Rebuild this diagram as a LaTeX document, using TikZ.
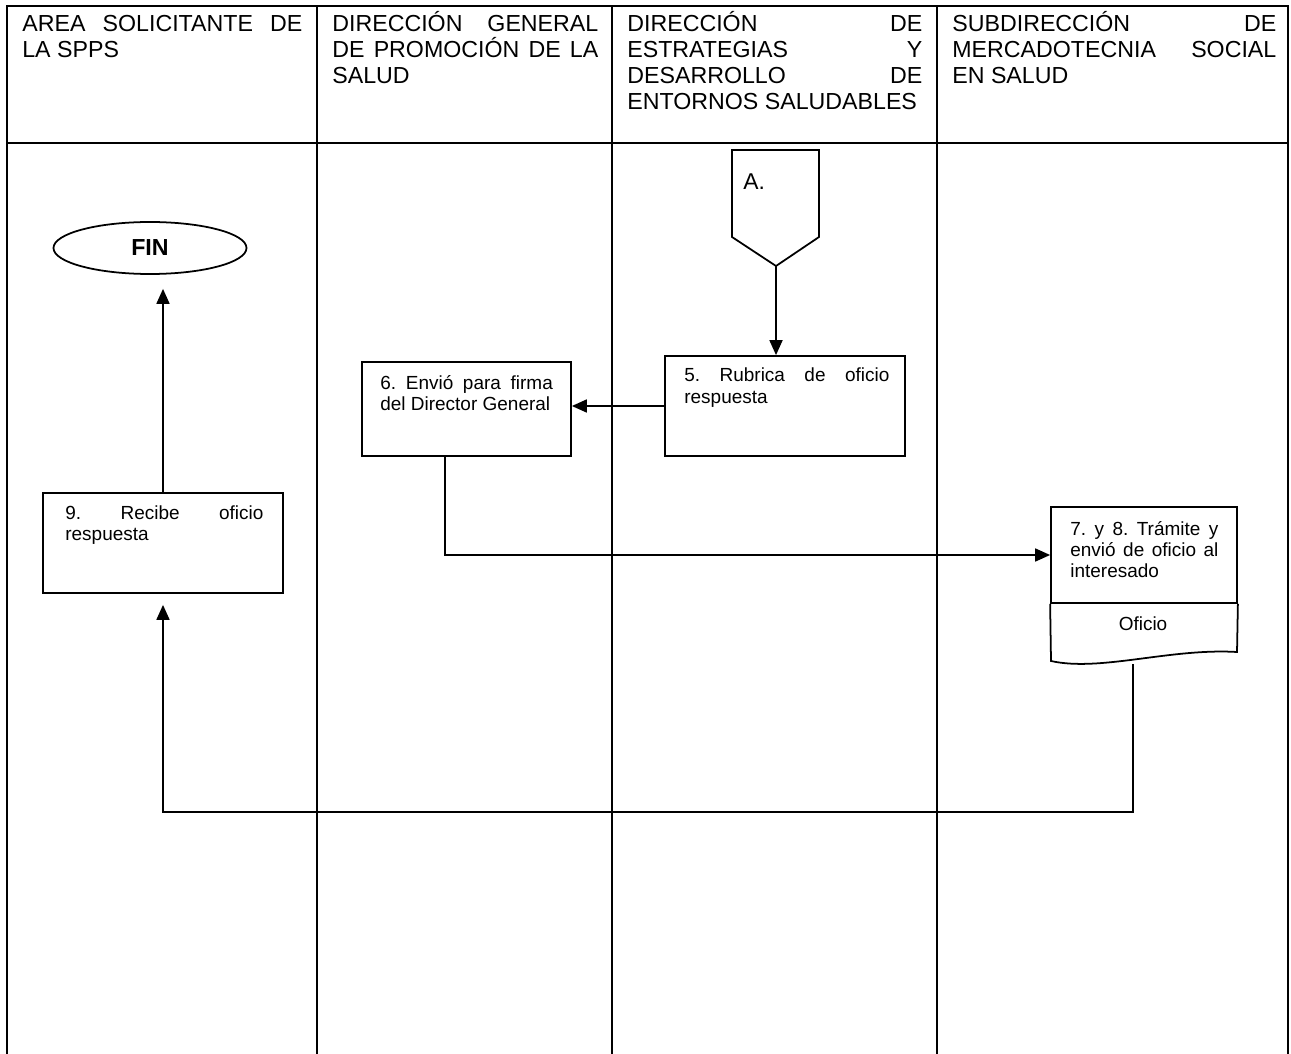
\documentclass[tikz,border=0pt]{standalone}
\usepackage{fontspec}
\setmainfont{Liberation Sans}
\usepackage{ragged2e}
\setlength{\JustifyingParindent}{0pt}
\usetikzlibrary{arrows.meta,shapes.geometric}

% no hyphenation in the lane texts, even word spacing
\hyphenpenalty=10000
\exhyphenpenalty=10000
\tolerance=10000
\frenchspacing

\tikzset{
  lane/.style={line width=1.2pt, line cap=rect},
  stepbox/.style={draw, rectangle, line width=1pt, inner sep=0pt},
  steptext/.style={anchor=base west, inner sep=0pt,
    font=\fontsize{10.8}{12.2}\selectfont, execute at begin node=\justifying},
  headtext/.style={anchor=base west, inner sep=0pt,
    font=\fontsize{13.2}{14.8}\selectfont, execute at begin node=\justifying},
  link/.style={line width=1pt},
  flow/.style={link, -{Triangle[length=3mm,width=2.6mm]}},
}

\begin{document}
\begin{tikzpicture}[x=0.2mm, y=-0.2mm]
\useasboundingbox (0,0) rectangle (1291,1054);

% Lanes: frame, header rule and column dividers
\draw[lane] (7,6) -- (1288,6);
\draw[lane] (7,143) -- (1288,143);
\foreach \x in {7,317,612,937,1288} {
  \draw[lane] (\x,6) -- (\x,1060);
}

% Lane titles
\node[headtext, text width=56mm] (hd1) at (22,31.7)
  {AREA SOLICITANTE DE\linebreak LA SPPS};
\node[headtext, text width=53.2mm] (hd2) at (332,31.7)
  {DIRECCIÓN GENERAL\linebreak DE PROMOCIÓN DE LA\linebreak SALUD};
\node[headtext, text width=59mm] (hd3) at (627,31.7)
  {DIRECCIÓN DE\linebreak ESTRATEGIAS Y\linebreak DESARROLLO DE\linebreak ENTORNOS SALUDABLES};
\node[headtext, text width=64.8mm] (hd4) at (952,31.7)
  {SUBDIRECCIÓN DE\linebreak MERCADOTECNIA SOCIAL\linebreak EN SALUD};

% Off-page connector A
\coordinate (offA) at (776,266);
\draw[link] (732,150) -- (819,150) -- (819,237) -- (offA) -- (732,237) -- cycle;
\node[anchor=base west, inner sep=0pt, font=\fontsize{13}{15}\selectfont] (lblA) at (743,190) {A.};

% End terminal
\node[draw, ellipse, line width=1pt, minimum width=38.6mm, minimum height=10.4mm,
  inner sep=0pt, font=\bfseries\fontsize{13.2}{15}\selectfont] (fin) at (150,248) {FIN};

% Steps
\node[stepbox, minimum width=48mm, minimum height=20mm] (r5) at (785,406) {};
\node[steptext, text width=41mm] (t5) at (684,382)
  {5. Rubrica de oficio\linebreak respuesta};

\node[stepbox, minimum width=41.8mm, minimum height=18.8mm] (r6) at (466.5,409) {};
\node[steptext, text width=34.5mm] (t6) at (380,389)
  {6. Envió para firma\linebreak del Director General};

\node[stepbox, minimum width=48mm, minimum height=20mm] (r9) at (163,543) {};
\node[steptext, text width=39.6mm] (t9) at (65,519)
  {9. Recibe oficio\linebreak respuesta};

% Step 7-8 with its document
\node[stepbox, minimum width=37.2mm, minimum height=19.2mm] (r7) at (1144,555) {};
\node[steptext, text width=29.6mm] (t7) at (1070,535)
  {7. y 8. Trámite y\linebreak envió de oficio al\linebreak interesado};
\draw[link] (r7.south west) -- (1051,661) .. controls (1100,672) and (1170,648) .. (1237,652) -- (r7.south east);
\node[anchor=base, inner sep=0pt, font=\fontsize{10.8}{12.2}\selectfont] (ofi) at (1143,630) {Oficio};
\coordinate (ofiout) at (1133,664);

% Connectors
\draw[flow] (offA) -- (offA |- r5.north);
\draw[flow] (r5.west) -- (r5.west -| r6.east);
\draw[flow] ([xshift=-4.3mm]r6.south) |- (r7.west);
\draw[flow, shorten >=2.2mm] (ofiout) -- ++(0,148) -| (r9.south);
\draw[flow, shorten >=2.8mm] (r9.north) -- (r9.north |- fin.south);

\end{tikzpicture}
\end{document}
